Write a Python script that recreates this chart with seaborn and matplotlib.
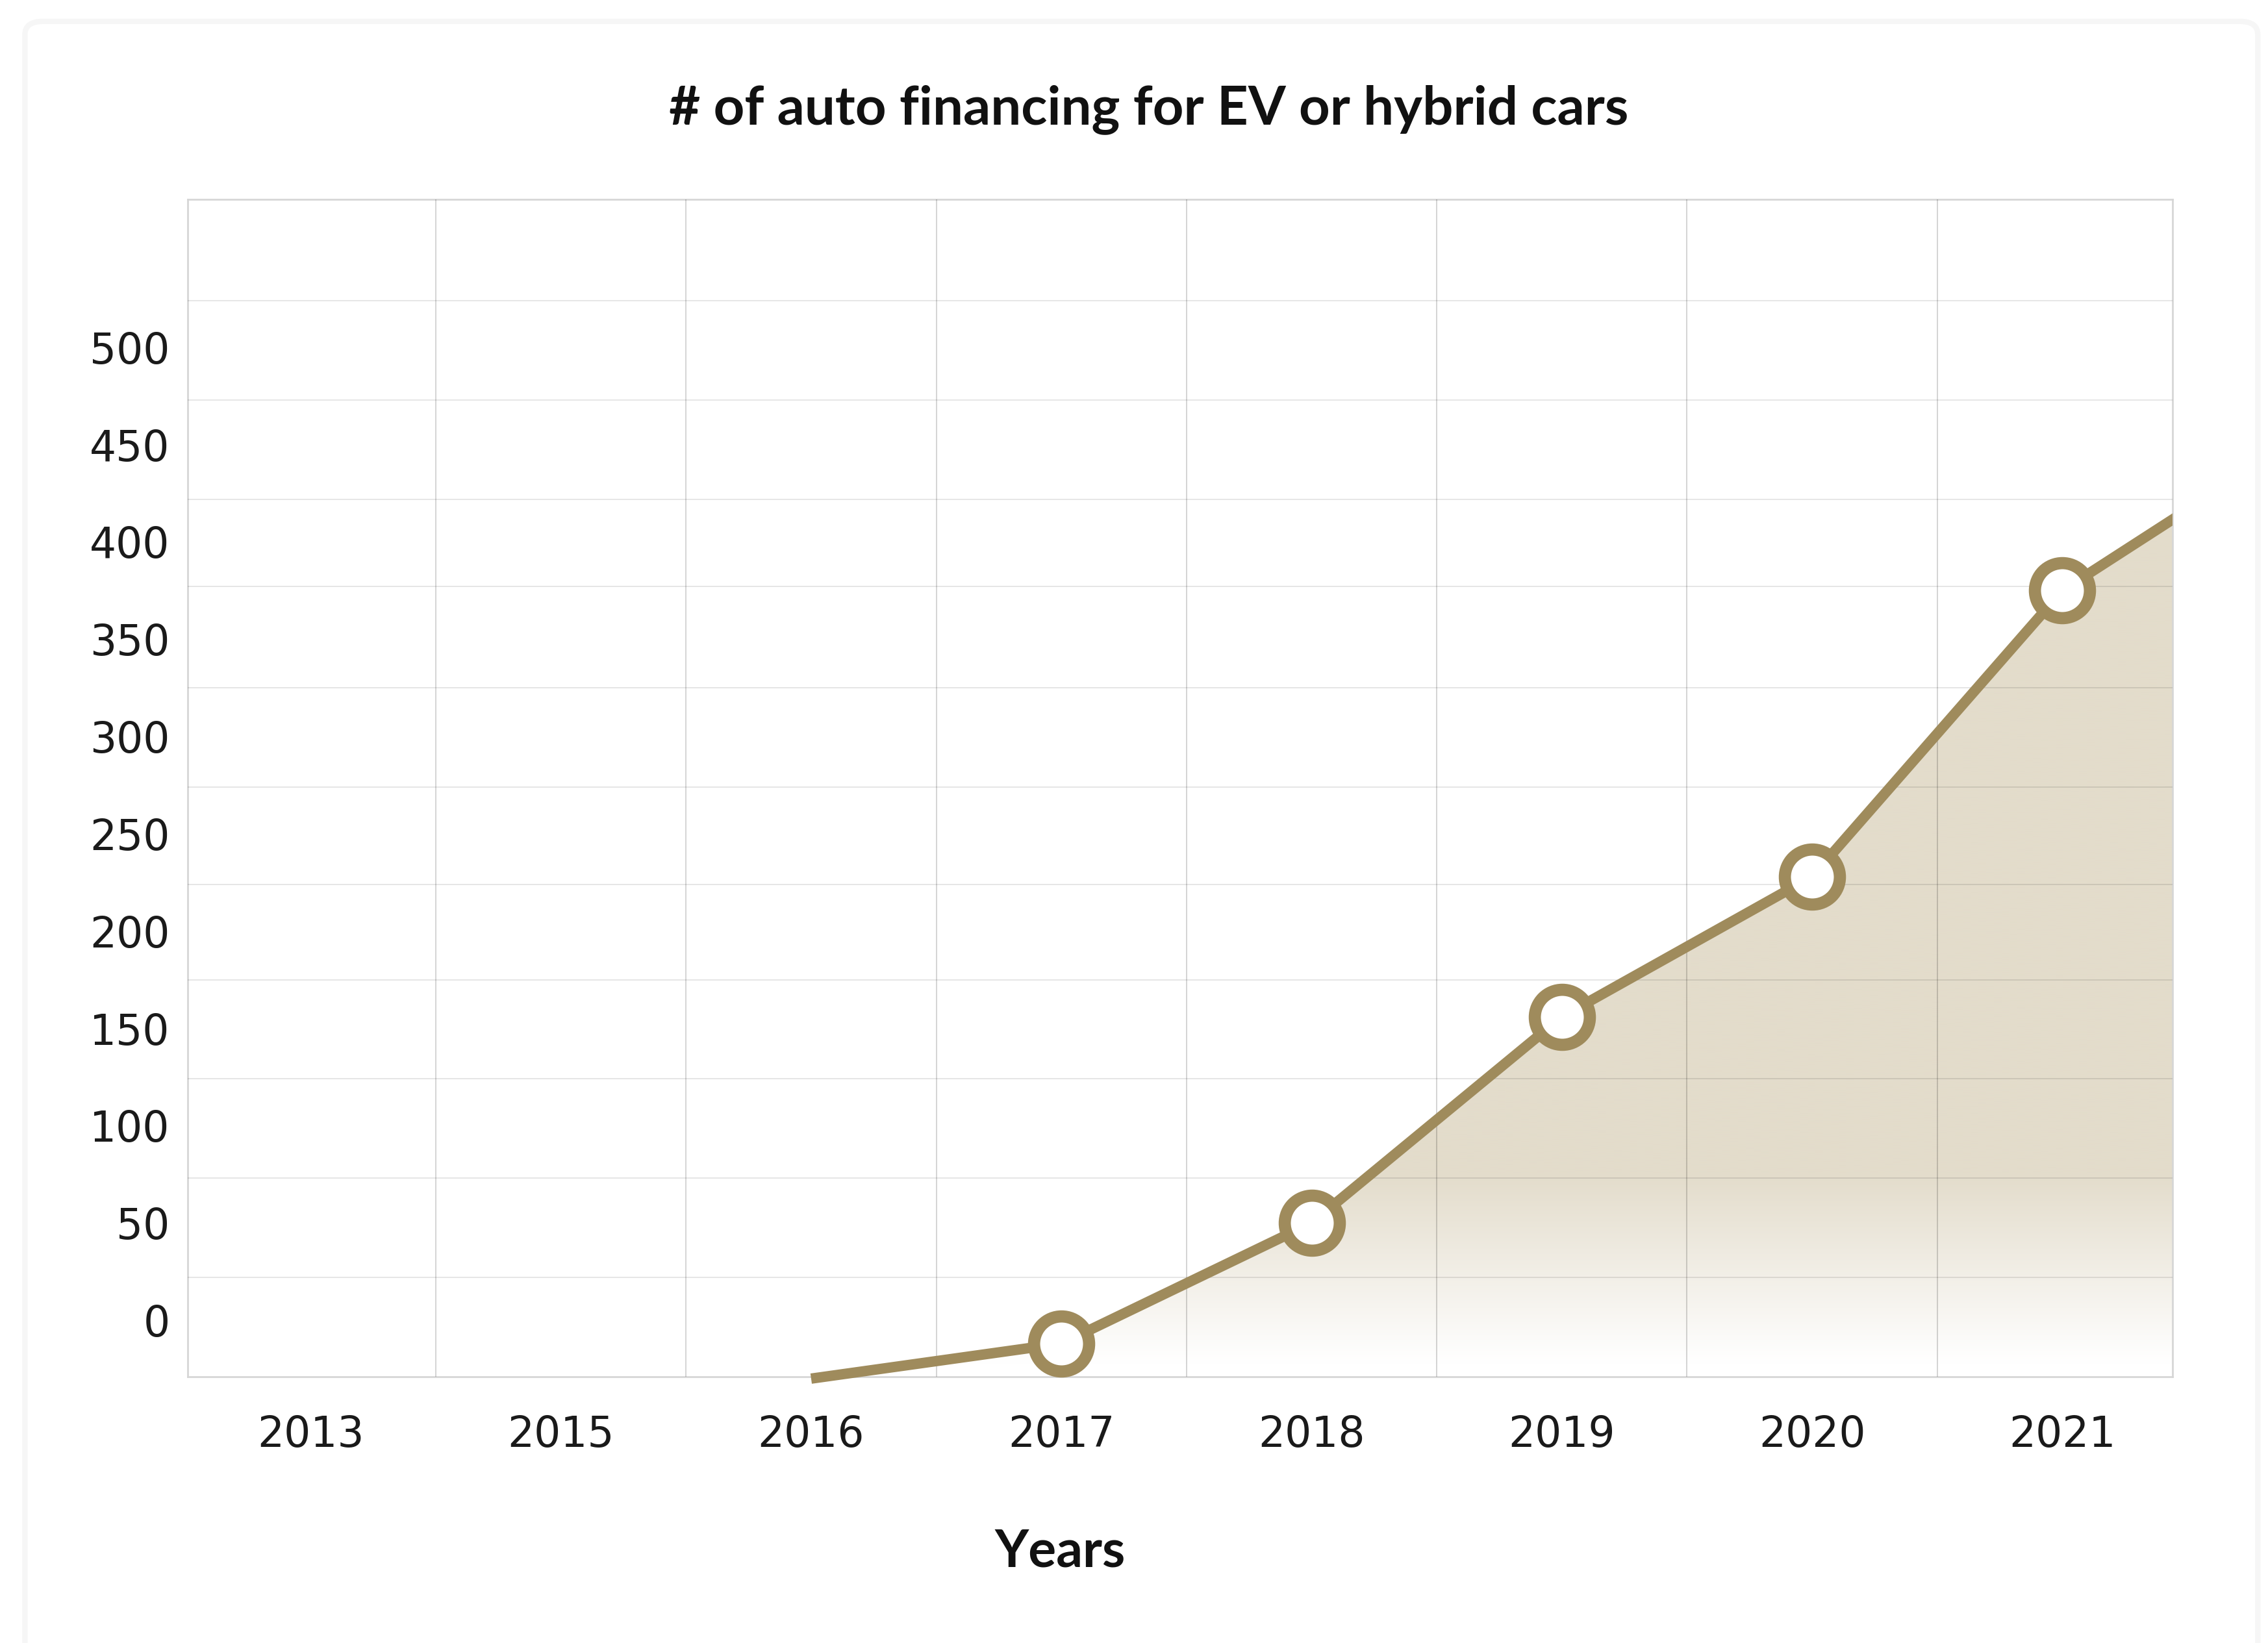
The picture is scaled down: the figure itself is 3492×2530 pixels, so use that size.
import numpy as np
import pandas as pd
import matplotlib.pyplot as plt
import seaborn as sns
from matplotlib.colors import to_rgb
from matplotlib.patches import Rectangle, FancyBboxPatch

# data
year_labels = ['2013', '2015', '2016', '2017', '2018', '2019', '2020', '2021']
y_labels = [0, 50, 100, 150, 200, 250, 300, 350, 400, 450, 500]
grid_levels = [-29, 22, 73, 124, 175, 224, 274, 325, 377, 422, 473, 524, 576]

line_years = ['2016', '2017', '2018', '2019', '2020', '2021', '2022']
financings = [-30, -12, 50, 156, 228, 375, 458]
marked_years = ['2017', '2018', '2019', '2020', '2021']

title = '# of auto financing for EV or hybrid cars'
x_title = 'Years'

line_color = '#9f8b5c'
fill_color = '#e3dccb'

sns.set_theme(style='white')
plt.rcParams['font.family'] = ['DejaVu Sans']
narrow = ['Liberation Sans Narrow', 'DejaVu Sans Condensed', 'Lato', 'DejaVu Sans']

# year -> slot on the category axis
slot = {y: i for i, y in enumerate(year_labels + ['2022'])}
df = pd.DataFrame({'year': line_years, 'value': financings})
df['x'] = df['year'].map(slot)

fig = plt.figure(figsize=(34.92, 25.30), dpi=100, facecolor='white')
card = FancyBboxPatch((0.011, -0.05), 0.9845, 1.037,
                      boxstyle='round,pad=0,rounding_size=0.008',
                      transform=fig.transFigure, facecolor='white',
                      edgecolor='#f6f6f6', lw=6, zorder=-5)
fig.add_artist(card)

ax = fig.add_axes([0.0829, 0.1621, 0.8750, 0.7165])
ax.set_facecolor('none')

xlo, xhi = -0.49, 7.44
ylo, yhi = grid_levels[0], grid_levels[-1]

# gradient area under the line
poly = ax.fill_between(df['x'], df['value'], ylo, facecolor='none', edgecolor='none')
ys = np.linspace(ylo, yhi, 500)
t = np.clip((ys + 22) / 97, 0, 1)
white = np.array([1.0, 1.0, 1.0])
tan = np.array(to_rgb(fill_color))
rgb = (1 - t)[:, None] * white + t[:, None] * tan
im = ax.imshow(rgb[:, None, :], extent=[xlo, xhi, ylo, yhi], origin='lower',
               aspect='auto', interpolation='bilinear', zorder=1)
im.set_clip_path(poly.get_paths()[0], transform=ax.transData)

sns.lineplot(data=df, x='x', y='value', color=line_color, linewidth=11.5,
             solid_capstyle='butt', zorder=3, ax=ax)
clip = Rectangle((0, -0.05), 1, 1.1, transform=ax.transAxes)
ax.lines[-1].set_clip_path(clip)

sns.scatterplot(data=df[df['year'].isin(marked_years)], x='x', y='value',
                s=61 ** 2, color='white', edgecolor=line_color, linewidth=13.5,
                zorder=4, clip_on=False, ax=ax)

ax.set_xlim(xlo, xhi)
ax.set_ylim(ylo, yhi)

ax.set_xticks(range(len(year_labels)), year_labels)
ax.set_xticks(np.arange(0.5, len(year_labels) - 1), minor=True)
ax.set_yticks(y_labels)
ax.set_yticks(grid_levels[1:-1], minor=True)
ax.tick_params(which='both', length=0, labelsize=46.5, labelcolor='#1a1a1a')
ax.tick_params(axis='y', pad=20)
ax.tick_params(axis='x', pad=42)

ax.grid(False)
ax.set_axisbelow(False)
ax.grid(which='minor', axis='x', color='black', alpha=0.17, lw=1.4)
ax.grid(which='minor', axis='y', color='black', alpha=0.10, lw=1.4)
for s in ax.spines.values():
    s.set_color('#d6d6d6')
    s.set_linewidth(2)

ax.set_ylabel('')
ax.set_xlabel(x_title, fontsize=58, fontweight='bold', family=narrow, color='#111111')
ax.xaxis.set_label_coords(0.4394, -0.149)
ax.xaxis.label.set_va('center')

fig.text(0.5066, 0.9332, title, ha='center', va='center', fontsize=60,
         fontweight='bold', family=narrow, color='#111111')

fig.savefig('out.png', dpi=100, facecolor='white')
